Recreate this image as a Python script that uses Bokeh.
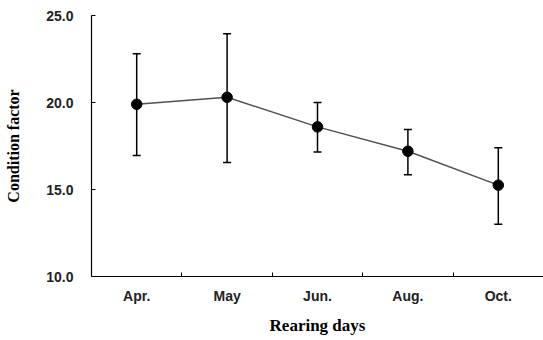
from bokeh.plotting import figure
from bokeh.models import (Range1d, FixedTicker, NumeralTickFormatter,
                          ColumnDataSource, Whisker, TeeHead)
from bokeh.embed import file_html
from bokeh.resources import INLINE

months = ["Apr.", "May", "Jun.", "Aug.", "Oct."]
mean_cf = [19.9, 20.3, 18.6, 17.2, 15.25]
upper_cf = [22.8, 23.95, 20.0, 18.45, 17.4]
lower_cf = [16.95, 16.55, 17.15, 15.85, 13.0]
y_ticks = [10, 15, 20, 25]

n = len(months)
xpos = [i + 0.5 for i in range(n)]
src = ColumnDataSource(dict(x=xpos, y=mean_cf, upper=upper_cf, lower=lower_cf))

p = figure(x_range=Range1d(0, n), y_range=Range1d(10, 25),
           width=543, height=340, output_backend="svg", toolbar_location=None,
           min_border_left=91, min_border_right=0, min_border_top=15, min_border_bottom=64)
p.outline_line_color = None
p.xgrid.visible = False
p.ygrid.visible = False

w = Whisker(source=src, base="x", upper="upper", lower="lower",
            line_color="black", line_width=1.5,
            upper_head=TeeHead(size=8, line_color="black", line_width=1.5),
            lower_head=TeeHead(size=8, line_color="black", line_width=1.5))
p.add_layout(w)

p.line("x", "y", source=src, line_color="#505050", line_width=1.5)
p.scatter("x", "y", source=src, size=10.5, fill_color="black", line_color="black")

for ax in (p.xaxis[0], p.yaxis[0]):
    ax.axis_line_color = "black"
    ax.axis_line_width = 1.2
    ax.major_tick_in = 4
    ax.major_tick_out = 0
    ax.major_tick_line_color = "black"
    ax.minor_tick_line_color = None
    ax.major_label_text_font = "Liberation Sans"
    ax.major_label_text_font_style = "bold"
    ax.major_label_text_font_size = "14px"
    ax.major_label_text_color = "#222222"
    ax.axis_label_text_font = "Liberation Serif"
    ax.axis_label_text_font_style = "bold"
    ax.axis_label_text_color = "black"

p.yaxis.ticker = FixedTicker(ticks=y_ticks)
p.yaxis.formatter = NumeralTickFormatter(format="0.0")
p.yaxis.major_label_standoff = 18
p.yaxis.axis_label = "Condition factor"
p.yaxis.axis_label_text_font_size = "16px"
p.yaxis.axis_label_standoff = 21

xa = p.xaxis[0]
xa.ticker = FixedTicker(ticks=xpos, minor_ticks=[i for i in range(1, n)])
xa.major_label_overrides = {x: m for x, m in zip(xpos, months)}
xa.major_tick_line_color = None
xa.minor_tick_line_color = "black"
xa.minor_tick_in = 4
xa.minor_tick_out = 0
xa.major_label_standoff = 11
xa.axis_label = "Rearing days"
xa.axis_label_text_font_size = "17px"
xa.axis_label_standoff = 9

open("out.html", "w").write(file_html(p, INLINE))
